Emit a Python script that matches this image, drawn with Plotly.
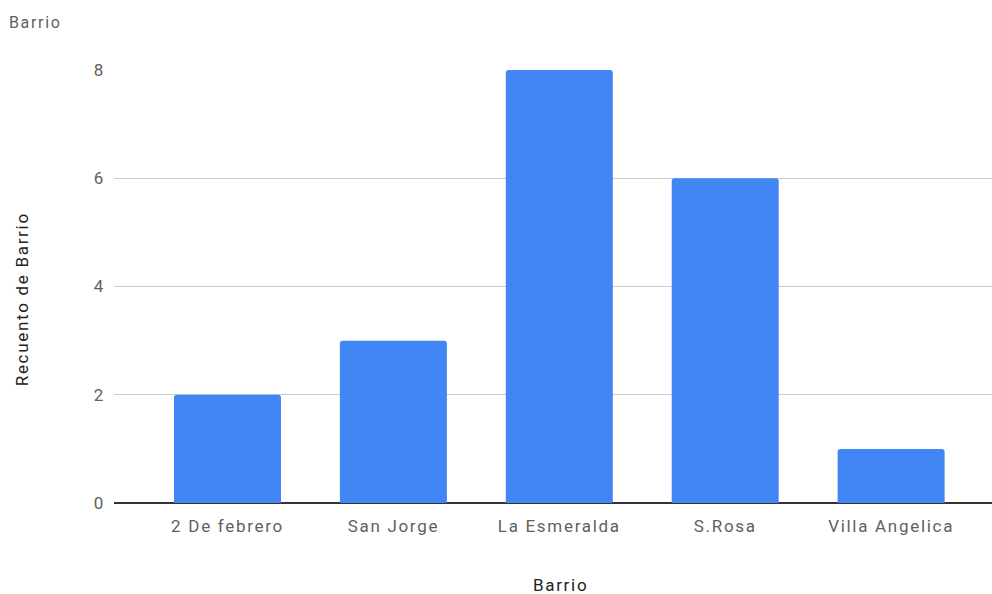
import plotly.graph_objects as go

barrios = ["2 De febrero", "San Jorge", "La Esmeralda", "S.Rosa", "Villa Angelica"]
recuento = [2, 3, 8, 6, 1]
y_ticks = [0, 2, 4, 6, 8]

FONT = "Roboto, Arial, sans-serif"
GRAY = "#5f5f5f"

fig = go.Figure(
    go.Bar(
        x=list(range(len(barrios))),
        y=recuento,
        width=0.645,
        marker=dict(color="#4285f4", line=dict(width=0), cornerradius=3),
        hoverinfo="skip",
    )
)

fig.update_layout(
    width=992,
    height=594,
    margin=dict(l=114, r=0, t=70, b=91),
    paper_bgcolor="white",
    plot_bgcolor="white",
    showlegend=False,
    font=dict(family=FONT, size=17, color=GRAY),
    xaxis=dict(
        range=[-0.684, 4.608],
        tickmode="array",
        tickvals=list(range(len(barrios))),
        ticktext=barrios,
        showgrid=False,
        zeroline=False,
        showline=False,
        ticks="",
        ticklabelstandoff=11,
        tickfont=dict(family=FONT, size=17, color=GRAY),
    ),
    yaxis=dict(
        range=[0, 8],
        tickmode="array",
        tickvals=y_ticks,
        showgrid=True,
        gridcolor="#cccccc",
        gridwidth=1,
        zeroline=True,
        zerolinecolor="#333333",
        zerolinewidth=1.5,
        showline=False,
        ticks="",
        ticklabelstandoff=8,
        tickfont=dict(family=FONT, size=17, color=GRAY),
    ),
    annotations=[
        dict(text="Barrio", xref="paper", yref="paper", x=0, y=1,
             xanchor="left", yanchor="middle", showarrow=False,
             font=dict(family=FONT, size=16, color=GRAY),
             xshift=-102, yshift=48),
        dict(text="Barrio", xref="paper", yref="paper", x=(560 - 114) / 878, y=0,
             xanchor="center", yanchor="middle", showarrow=False,
             font=dict(family=FONT, size=17, color="#222222"),
             yshift=-82),
        dict(text="Recuento de Barrio", xref="paper", yref="paper", x=0, y=(503 - 300) / 433,
             xanchor="center", yanchor="middle", showarrow=False, textangle=-90,
             font=dict(family=FONT, size=17, color="#222222"),
             xshift=-92),
    ],
)

# Slightly tracked lettering for all chart text
tracking = """
var gd = document.getElementById('{plot_id}');
gd.querySelectorAll('text').forEach(function(t) { t.style.letterSpacing = '1.7px'; });
"""

fig.write_html("out.html", post_script=tracking, config={"responsive": False})
